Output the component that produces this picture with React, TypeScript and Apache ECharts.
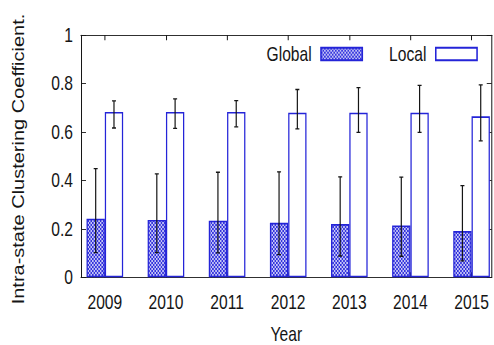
import React, { useEffect, useRef } from "react";
import * as echarts from "echarts";

const years = ["2009", "2010", "2011", "2012", "2013", "2014", "2015"];
const globalMean = [0.242, 0.237, 0.234, 0.225, 0.22, 0.214, 0.191];
const globalLow = [0.102, 0.102, 0.101, 0.094, 0.088, 0.087, 0.068];
const globalHigh = [0.449, 0.427, 0.434, 0.436, 0.415, 0.414, 0.379];
const localMean = [0.683, 0.683, 0.683, 0.68, 0.68, 0.68, 0.665];
const localLow = [0.617, 0.615, 0.622, 0.613, 0.599, 0.599, 0.564];
const localHigh = [0.729, 0.737, 0.73, 0.776, 0.784, 0.793, 0.795];
const yTicks = [0, 0.2, 0.4, 0.6, 0.8, 1];

// The figure uses tall, condensed lettering: the chart is laid out on a wider
// canvas and squeezed horizontally to the final 494px width.
const SQUEEZE = 0.78;
const OUT_W = 494;
const OUT_H = 345;
const W = OUT_W / SQUEEZE;
const sx = (px: number) => px / SQUEEZE;

const BLUE = "#2424d8";
const INK = "#151515";
const BAR_W = sx(18.3);
const FONT = "'Liberation Sans', Arial, sans-serif";
const FONT_SIZE = 20;

function makeChecker(): HTMLCanvasElement {
  const c = document.createElement("canvas");
  c.width = 4;
  c.height = 4;
  const ctx = c.getContext("2d")!;
  ctx.fillStyle = "#c4c4f6";
  ctx.fillRect(0, 0, 4, 4);
  ctx.fillStyle = "#3434dc";
  ctx.fillRect(0, 0, 2, 2);
  ctx.fillRect(2, 2, 2, 2);
  return c;
}

export default function App() {
  const ref = useRef<HTMLDivElement>(null);

  useEffect(() => {
    if (!ref.current) return;
    const chart = echarts.init(ref.current, undefined, { renderer: "svg" });
    const checker = { image: makeChecker(), repeat: "repeat" as const };
    const idx = years.map((_, i) => i);

    const errorSeries = (name: string, low: number[], high: number[], shift: number) => ({
      type: "custom" as const,
      name,
      xAxisIndex: 0,
      yAxisIndex: 0,
      z: 5,
      silent: true,
      data: idx.map((i) => [i, low[i], high[i]]),
      renderItem: (_p: any, api: any) => {
        const lo = api.coord([api.value(0), api.value(1)]);
        const hi = api.coord([api.value(0), api.value(2)]);
        const x = lo[0] + shift;
        const cap = sx(2);
        const vStyle = { stroke: INK, lineWidth: sx(1.2) };
        const hStyle = { stroke: INK, lineWidth: 1.3 };
        return {
          type: "group",
          children: [
            { type: "line", shape: { x1: x, y1: lo[1], x2: x, y2: hi[1] }, style: vStyle },
            { type: "line", shape: { x1: x - cap, y1: lo[1], x2: x + cap, y2: lo[1] }, style: hStyle },
            { type: "line", shape: { x1: x - cap, y1: hi[1], x2: x + cap, y2: hi[1] }, style: hStyle },
          ],
        };
      },
    });

    const xRange = { min: -0.39, max: 6.33 };

    chart.setOption({
      animation: false,
      backgroundColor: "#ffffff",
      grid: {
        left: sx(81),
        right: W - sx(492),
        top: 35.3,
        bottom: OUT_H - 277.3,
        containLabel: false,
        outerBoundsMode: "none",
      },
      legend: {
        orient: "horizontal",
        left: sx(266.5),
        top: 44,
        width: sx(225),
        padding: 0,
        align: "right",
        icon: "rect",
        itemWidth: sx(41.3),
        itemHeight: 12.6,
        itemGap: sx(26),
        textStyle: {
          fontFamily: FONT,
          fontSize: FONT_SIZE,
          color: INK,
          padding: [0, sx(5.5), 0, 0],
        },
        data: ["Global", "Local"],
      },
      xAxis: [
        {
          type: "value",
          ...xRange,
          splitLine: { show: false },
          axisLine: { show: true, onZero: false, lineStyle: { color: INK, width: 1 } },
          axisTick: { show: true, inside: true, length: 5, customValues: idx, lineStyle: { color: INK, width: sx(1) } },
          axisLabel: {
            customValues: idx,
            formatter: (v: number) => years[Math.round(v)] ?? "",
            fontFamily: FONT,
            fontSize: FONT_SIZE,
            color: INK,
            margin: 15,
          },
          name: "Year",
          nameLocation: "middle",
          nameGap: 47,
          nameTextStyle: { fontFamily: FONT, fontSize: FONT_SIZE, color: INK },
        },
        {
          type: "value",
          position: "top",
          ...xRange,
          splitLine: { show: false },
          axisLine: { show: true, onZero: false, lineStyle: { color: INK, width: 1 } },
          axisTick: { show: true, inside: true, length: 5, customValues: idx, lineStyle: { color: INK, width: sx(1) } },
          axisLabel: { show: false },
        },
      ],
      yAxis: [
        {
          type: "value",
          min: 0,
          max: 1,
          interval: 0.2,
          splitLine: { show: false },
          axisLine: { show: true, onZero: false, lineStyle: { color: INK, width: sx(1) } },
          axisTick: { show: true, inside: true, length: sx(5), lineStyle: { color: INK } },
          axisLabel: {
            customValues: yTicks,
            formatter: (v: number) => String(+v.toFixed(1)),
            fontFamily: FONT,
            fontSize: FONT_SIZE,
            color: INK,
            margin: sx(8),
          },
        },
        {
          type: "value",
          position: "right",
          min: 0,
          max: 1,
          interval: 0.2,
          splitLine: { show: false },
          axisLine: { show: true, onZero: false, lineStyle: { color: INK, width: sx(1) } },
          axisTick: { show: true, inside: true, length: sx(5), lineStyle: { color: INK } },
          axisLabel: { show: false },
        },
      ],
      graphic: [
        {
          type: "text",
          x: sx(18.5),
          y: 159,
          rotation: Math.PI / 2,
          style: {
            text: "Intra-state Clustering Coefficient.",
            fontFamily: FONT,
            fontSize: FONT_SIZE,
            fill: INK,
            align: "center",
            verticalAlign: "middle",
          },
        },
      ],
      series: [
        {
          type: "bar",
          name: "Global",
          barWidth: BAR_W,
          barGap: "0%",
          z: 2,
          itemStyle: { color: checker, borderColor: BLUE, borderWidth: 1.6 },
          data: idx.map((i) => [i, globalMean[i]]),
        },
        {
          type: "bar",
          name: "Local",
          barWidth: BAR_W,
          barGap: "0%",
          z: 2,
          itemStyle: { color: "#ffffff", borderColor: BLUE, borderWidth: 1.6 },
          data: idx.map((i) => [i, localMean[i]]),
        },
        errorSeries("GlobalErr", globalLow, globalHigh, -BAR_W / 2),
        errorSeries("LocalErr", localLow, localHigh, BAR_W / 2),
      ],
    });

    return () => chart.dispose();
  }, []);

  return (
    <div style={{ position: "absolute", left: 0, top: 0, width: OUT_W, height: OUT_H, overflow: "hidden", background: "#fff" }}>
      <div
        ref={ref}
        style={{
          width: W,
          height: OUT_H,
          transform: `scaleX(${SQUEEZE})`,
          transformOrigin: "0 0",
        }}
      />
    </div>
  );
}
